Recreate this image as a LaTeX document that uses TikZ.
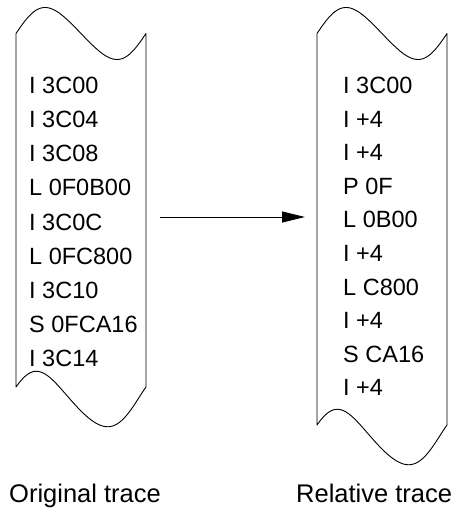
\documentclass[tikz,border=0pt]{standalone}
\usepackage{fontspec}
\setmainfont{Liberation Sans}
\usetikzlibrary{arrows.meta}
\begin{document}
\begin{tikzpicture}[x=1pt,y=-1pt,
  tape/.style={line width=0.9pt, line join=round},
  trace/.style={anchor=base west, inner sep=0pt, font=\fontsize{23.5}{27}\selectfont},
  caption/.style={anchor=base west, inner sep=0pt, font=\fontsize{25.5}{30}\selectfont},
  flow/.style={line width=0.9pt, -{Triangle[length=23pt,width=11pt]}}]
\useasboundingbox (0,0) rectangle (457,510);
% left tape
\draw[tape] plot[domain=0:360,samples=91] ({16+\x/360*130},{33.5-26*sin(\x+9.85*sin(\x))})
  -- plot[domain=360:0,samples=91] ({16+\x/360*130},{387-25*sin(\x+9.85*sin(\x))+12*(1-cos(\x+9.85*sin(\x)))}) -- cycle;
% right tape
\draw[tape] plot[domain=0:360,samples=91] ({317+\x/360*130},{33.5-26*sin(\x+9.85*sin(\x))})
  -- plot[domain=360:0,samples=91] ({317+\x/360*130},{425-25*sin(\x+9.85*sin(\x))+12*(1-cos(\x+9.85*sin(\x)))}) -- cycle;
% texts
\foreach \t [count=\i] in {I 3C00, I 3C04, I 3C08, L 0F0B00, I 3C0C, L 0FC800, I 3C10, S 0FCA16, I 3C14}
  \node[trace] (l\i) at (29,{94+34*(\i-1)}) {\t};
\foreach \t [count=\i] in {I 3C00, I +4, I +4, P 0F, L 0B00, I +4, L C800, I +4, S CA16, I +4}
  \node[trace] (r\i) at (343,{94+33.5*(\i-1)}) {\t};
% arrow
\coordinate (outL) at (160,217);
\coordinate (inR) at (305,217);
\draw[flow] (outL) -- (inR);
% captions
\node[caption] (capL) at (9,502) {Original trace};
\node[caption] (capR) at (296,502) {Relative trace};
\end{tikzpicture}
\end{document}
